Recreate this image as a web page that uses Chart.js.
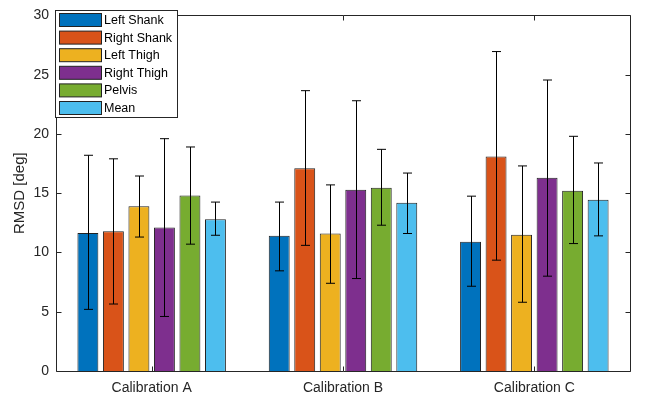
<!DOCTYPE html>
<html>
<head>
<meta charset="utf-8">
<script src="https://cdn.jsdelivr.net/npm/chart.js@4"></script>
<style>
  html, body { margin: 0; padding: 0; background: #fff; }
  #wrap { width: 647px; height: 396px; }
</style>
</head>
<body>
<div id="wrap"><canvas id="myChart" width="647" height="396"></canvas></div>
<script>
// categories and tick labels
const calibrations = ['Calibration A', 'Calibration B', 'Calibration C']
const yTicks = [0, 5, 10, 15, 20, 25, 30]

// mean RMSD per segment (deg)
const leftShank  = [11.65, 11.4, 10.9]
const rightShank = [11.8, 17.1, 18.1]
const leftThigh  = [13.9, 11.6, 11.5]
const rightThigh = [12.1, 15.3, 16.3]
const pelvis     = [14.8, 15.45, 15.2]
const meanAll    = [12.8, 14.2, 14.45]

// error bar ends (low / high)
const leftShankLo  = [5.2, 8.45, 7.15]
const leftShankHi  = [18.2, 14.25, 14.75]
const rightShankLo = [5.65, 10.6, 9.35]
const rightShankHi = [17.9, 23.65, 26.95]
const leftThighLo  = [11.3, 7.4, 5.8]
const leftThighHi  = [16.45, 15.7, 17.3]
const rightThighLo = [4.6, 7.8, 8.0]
const rightThighHi = [19.6, 22.8, 24.55]
const pelvisLo     = [10.7, 12.3, 10.75]
const pelvisHi     = [18.9, 18.7, 19.8]
const meanLo       = [11.45, 11.6, 11.4]
const meanHi       = [14.25, 16.7, 17.55]

const seriesNames = ['Left Shank', 'Right Shank', 'Left Thigh', 'Right Thigh', 'Pelvis', 'Mean']
const seriesColors = ['#0072BD', '#D95319', '#EDB120', '#7E2F8E', '#77AC30', '#4DBEEE']

const values = [leftShank, rightShank, leftThigh, rightThigh, pelvis, meanAll]
const lows = [leftShankLo, rightShankLo, leftThighLo, rightThighLo, pelvisLo, meanLo]
const highs = [leftShankHi, rightShankHi, leftThighHi, rightThighHi, pelvisHi, meanHi]

const FONT = '"Liberation Sans", Arial, Helvetica, sans-serif'
const TXT = '#262626'

// error bars drawn at each bar's centre
const errorBars = {
    id: 'errorBars',
    afterDatasetsDraw(chart) {
        const ctx = chart.ctx
        const y = chart.scales.y
        ctx.save()
        ctx.strokeStyle = '#000'
        ctx.lineWidth = 1
        chart.data.datasets.forEach((ds, di) => {
            const meta = chart.getDatasetMeta(di)
            meta.data.forEach((bar, i) => {
                const x = Math.round(bar.x) + 0.5
                const yl = y.getPixelForValue(lows[di][i])
                const yh = y.getPixelForValue(highs[di][i])
                ctx.beginPath()
                ctx.moveTo(x, yh); ctx.lineTo(x, yl)
                ctx.moveTo(x - 4.5, yh); ctx.lineTo(x + 4.5, yh)
                ctx.moveTo(x - 4.5, yl); ctx.lineTo(x + 4.5, yl)
                ctx.stroke()
            })
        })
        ctx.restore()
    }
}

// matlab style box with inward ticks, plus the legend in the top left
const axesBox = {
    id: 'axesBox',
    afterDraw(chart) {
        const ctx = chart.ctx
        const a = chart.chartArea
        const y = chart.scales.y
        const x = chart.scales.x
        const L = Math.round(a.left) + 0.5, R = Math.round(a.right) + 0.5
        const T = Math.round(a.top) + 0.5, B = Math.round(a.bottom) + 0.5
        ctx.save()
        ctx.strokeStyle = '#262626'
        ctx.lineWidth = 1
        ctx.beginPath()
        ctx.rect(L, T, R - L, B - T)
        yTicks.forEach(v => {
            const py = Math.round(y.getPixelForValue(v)) + 0.5
            ctx.moveTo(L, py); ctx.lineTo(L + 5, py)
            ctx.moveTo(R, py); ctx.lineTo(R - 5, py)
        })
        calibrations.forEach((c, i) => {
            const px = Math.round(x.getPixelForValue(i)) + 0.5
            ctx.moveTo(px, B); ctx.lineTo(px, B - 5)
            ctx.moveTo(px, T); ctx.lineTo(px, T + 5)
        })
        ctx.stroke()

        // legend
        const lx = 55.5, ly = 10.5, lw = 122, lh = 107
        ctx.fillStyle = '#fff'
        ctx.fillRect(lx, ly, lw, lh)
        ctx.strokeStyle = '#262626'
        ctx.strokeRect(lx, ly, lw, lh)
        ctx.font = '12.5px ' + FONT
        ctx.textBaseline = 'middle'
        seriesNames.forEach((n, i) => {
            const ry = 13.5 + i * 17.6
            ctx.fillStyle = seriesColors[i]
            ctx.fillRect(59.5, ry, 42, 13)
            ctx.strokeStyle = '#222'
            ctx.strokeRect(59.5, ry, 42, 13)
            ctx.fillStyle = '#000'
            ctx.fillText(n, 104, ry + 7)
        })
        ctx.restore()
    }
}

const ctx = document.getElementById('myChart')

new Chart(ctx, {
    type: 'bar',
    data: {
        labels: calibrations,
        datasets: seriesNames.map((n, i) => ({
            label: n,
            data: values[i],
            backgroundColor: seriesColors[i],
            borderColor: '#222',
            borderWidth: 1,
            categoryPercentage: 0.8,
            barPercentage: 0.82
        }))
    },
    options: {
        responsive: false,
        animation: false,
        devicePixelRatio: 1,
        layout: { padding: { top: 11, right: 17, left: 0, bottom: 0 } },
        plugins: {
            legend: { display: false },
            tooltip: { enabled: false }
        },
        scales: {
            x: {
                grid: { display: false, drawTicks: false },
                border: { display: false },
                ticks: { color: TXT, font: { family: FONT, size: 14 }, padding: 9 },
                afterFit(scale) { scale.height = 25 }
            },
            y: {
                min: 0,
                max: 30,
                grid: { display: false, drawTicks: false },
                border: { display: false },
                ticks: { stepSize: 5, color: TXT, font: { family: FONT, size: 14 }, padding: 7 },
                title: { display: true, text: 'RMSD [deg]', color: TXT, font: { family: FONT, size: 15 }, padding: { top: 11, bottom: 0 } },
                afterFit(scale) { scale.width = 56 }
            }
        }
    },
    plugins: [errorBars, axesBox]
})
</script>
</body>
</html>
